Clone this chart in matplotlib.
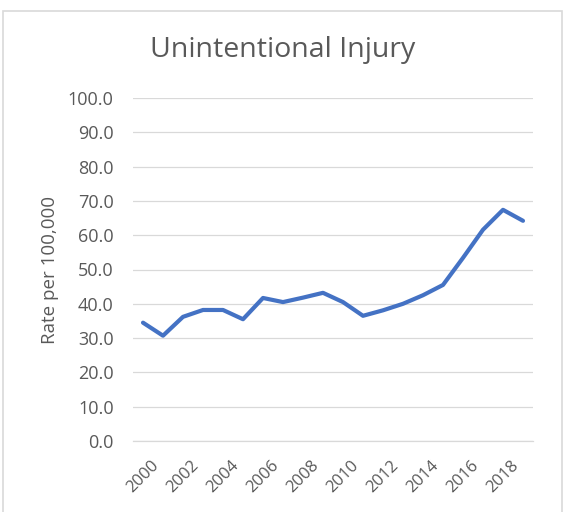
import matplotlib.pyplot as plt
from matplotlib.patches import Rectangle

years = list(range(2000, 2020))
rates = [34.5, 30.7, 36.2, 38.2, 38.2, 35.5, 41.7, 40.5, 41.8, 43.2,
         40.5, 36.5, 38.1, 40.0, 42.5, 45.5, 53.4, 61.6, 67.4, 64.2]
label_years = list(range(2000, 2019, 2))
y_ticks = [i * 10 for i in range(11)]

plt.rcParams['font.family'] = ['Open Sans', 'DejaVu Sans']
text_col = '#595959'
grid_col = '#d9d9d9'

fig = plt.figure(figsize=(5.63, 5.12), dpi=100)
fig.patches.append(Rectangle((3 / 563, -0.1), 559 / 563, 1 - 11 / 512 + 0.1,
                             transform=fig.transFigure, fill=False,
                             edgecolor=grid_col, linewidth=1.2))

ax = fig.add_axes([133 / 563, 1 - 441 / 512, 400 / 563, 343 / 512])
ax.plot(years, rates, color='#4472C4', linewidth=3, solid_capstyle='round',
        solid_joinstyle='round', zorder=3)

ax.set_xlim(1999.5, 2019.5)
ax.set_ylim(0, 100)
ax.set_yticks(y_ticks)
ax.set_yticklabels([f'{v:.1f}' for v in y_ticks])
ax.set_xticks(label_years)
ax.set_xticklabels([str(y) for y in label_years], rotation=45,
                   ha='center', va='top')
ax.tick_params(axis='both', length=0, colors=text_col)
ax.tick_params(axis='y', pad=14, labelsize=13)
ax.tick_params(axis='x', pad=12, labelsize=12)

ax.grid(axis='y', color=grid_col, linewidth=0.9)
ax.set_axisbelow(True)
for s in ['top', 'right', 'left']:
    ax.spines[s].set_visible(False)
ax.spines['bottom'].set_color(grid_col)
ax.spines['bottom'].set_linewidth(0.9)

ax.set_ylabel('Rate per 100,000', fontsize=13.5, color=text_col, labelpad=6)
fig.text(283 / 563, 1 - 50 / 512, 'Unintentional Injury', fontsize=20.5,
         color=text_col, ha='center', va='center')

fig.savefig('out.png', dpi=100)
